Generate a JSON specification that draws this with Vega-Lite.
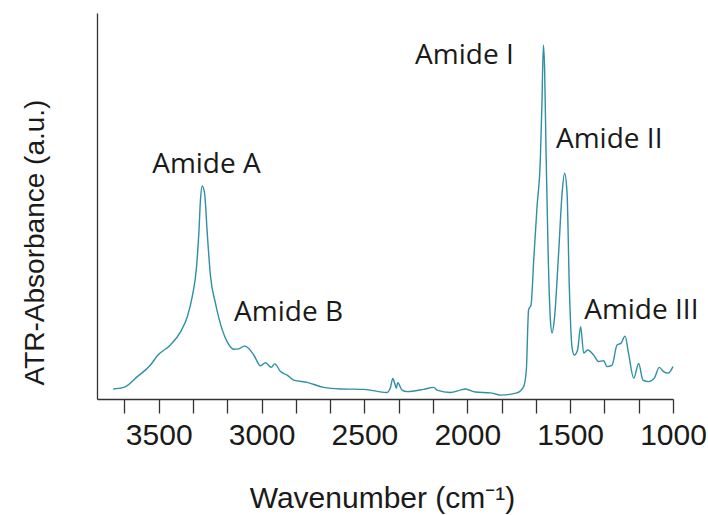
{
  "$schema": "https://vega.github.io/schema/vega-lite/v6.json",
  "width": 576,
  "height": 386,
  "autosize": {"type": "none"},
  "padding": {"left": 97, "top": 13, "right": 35, "bottom": 116},
  "background": "white",
  "config": {"view": {"stroke": null}},
  "datasets": {
    "spectrum": [
      {"w": 3721, "a": 2.6}, {"w": 3670, "a": 3.0}, {"w": 3604, "a": 5.8}, {"w": 3540, "a": 8.8},
      {"w": 3507, "a": 11.2}, {"w": 3443, "a": 14.0}, {"w": 3394, "a": 17.4}, {"w": 3361, "a": 21.3},
      {"w": 3337, "a": 26.5}, {"w": 3316, "a": 34.3}, {"w": 3305, "a": 42.9}, {"w": 3297, "a": 51.6},
      {"w": 3289, "a": 55.2}, {"w": 3277, "a": 53.3}, {"w": 3264, "a": 42.9}, {"w": 3248, "a": 31.7},
      {"w": 3224, "a": 24.8}, {"w": 3191, "a": 17.9}, {"w": 3167, "a": 14.8}, {"w": 3135, "a": 12.9},
      {"w": 3111, "a": 13.0}, {"w": 3083, "a": 13.7}, {"w": 3062, "a": 13.1}, {"w": 3038, "a": 11.4},
      {"w": 3005, "a": 8.6}, {"w": 2981, "a": 9.4}, {"w": 2953, "a": 8.2}, {"w": 2936, "a": 9.1},
      {"w": 2908, "a": 7.1}, {"w": 2876, "a": 6.2}, {"w": 2844, "a": 4.9}, {"w": 2778, "a": 4.3},
      {"w": 2698, "a": 3.0}, {"w": 2617, "a": 2.6}, {"w": 2503, "a": 2.5}, {"w": 2390, "a": 1.7},
      {"w": 2374, "a": 2.9}, {"w": 2362, "a": 5.3}, {"w": 2353, "a": 4.1}, {"w": 2345, "a": 2.8},
      {"w": 2338, "a": 4.2}, {"w": 2317, "a": 2.3}, {"w": 2293, "a": 1.9}, {"w": 2212, "a": 2.5},
      {"w": 2163, "a": 3.0}, {"w": 2147, "a": 2.3}, {"w": 2082, "a": 1.7}, {"w": 2034, "a": 2.3},
      {"w": 2009, "a": 2.6}, {"w": 1961, "a": 1.8}, {"w": 1888, "a": 1.6}, {"w": 1839, "a": 1.0},
      {"w": 1758, "a": 1.6}, {"w": 1726, "a": 3.2}, {"w": 1713, "a": 7.5}, {"w": 1702, "a": 23.1},
      {"w": 1690, "a": 24.4}, {"w": 1677, "a": 36.0}, {"w": 1661, "a": 49.8}, {"w": 1645, "a": 61.9},
      {"w": 1637, "a": 76.7}, {"w": 1630, "a": 91.7}, {"w": 1624, "a": 85.2}, {"w": 1617, "a": 63.7},
      {"w": 1607, "a": 37.8}, {"w": 1596, "a": 20.5}, {"w": 1588, "a": 17.1}, {"w": 1577, "a": 20.5},
      {"w": 1556, "a": 37.8}, {"w": 1539, "a": 53.4}, {"w": 1527, "a": 58.5}, {"w": 1515, "a": 53.4},
      {"w": 1504, "a": 29.0}, {"w": 1491, "a": 13.5}, {"w": 1480, "a": 11.4}, {"w": 1464, "a": 12.7},
      {"w": 1449, "a": 18.7}, {"w": 1434, "a": 11.9}, {"w": 1415, "a": 12.7}, {"w": 1386, "a": 11.4},
      {"w": 1362, "a": 9.7}, {"w": 1337, "a": 9.9}, {"w": 1321, "a": 8.4}, {"w": 1296, "a": 8.8},
      {"w": 1272, "a": 14.0}, {"w": 1253, "a": 14.4}, {"w": 1233, "a": 16.3}, {"w": 1216, "a": 11.8},
      {"w": 1191, "a": 5.4}, {"w": 1167, "a": 9.2}, {"w": 1146, "a": 4.9}, {"w": 1119, "a": 4.5},
      {"w": 1091, "a": 5.4}, {"w": 1067, "a": 8.2}, {"w": 1046, "a": 7.1}, {"w": 1024, "a": 6.7},
      {"w": 1000, "a": 8.4}
    ],
    "labels": [
      {"w": 3268, "a": 58.5, "text": "Amide A"},
      {"w": 2869, "a": 20.3, "text": "Amide B"},
      {"w": 2014, "a": 86.7, "text": "Amide I"},
      {"w": 1310, "a": 64.9, "text": "Amide II"},
      {"w": 1154, "a": 20.7, "text": "Amide III"}
    ]
  },
  "layer": [
    {
      "data": {"name": "spectrum"},
      "mark": {"type": "line", "color": "#2e8fa5", "strokeWidth": 1.4, "interpolate": "monotone"},
      "encoding": {
        "x": {
          "field": "w", "type": "quantitative",
          "scale": {"domain": [3800, 1000], "nice": false, "zero": false},
          "axis": {
            "values": [3666.667, 3500, 3333.333, 3166.667, 3000, 2833.333, 2666.667, 2500, 2333.333, 2166.667, 2000, 1833.333, 1666.667, 1500, 1333.333, 1166.667, 1000],
            "tickCount": 40,
            "labelExpr": "abs(datum.value % 500) < 0.01 ? format(datum.value, 'd') : ''",
            "ticks": true,
            "tickSize": 14,
            "tickColor": "#333333",
            "tickWidth": 1.3,
            "domainColor": "#333333",
            "domainWidth": 1.3,
            "grid": false,
            "labelFont": "Liberation Sans",
            "labelFontSize": 30,
            "labelColor": "#1a1a1a",
            "labelBaseline": "alphabetic",
            "labelPadding": 31,
            "labelFlush": false,
            "labelOverlap": false,
            "labelBound": false,
            "title": "Wavenumber (cm⁻¹)",
            "titleFont": "Liberation Sans",
            "titleFontSize": 30,
            "titleFontWeight": "normal",
            "titleColor": "#1a1a1a",
            "titleBaseline": "alphabetic",
            "titleX": 285,
            "titleY": 108,
            "encode": {
              "ticks": {"update": {"y2": {"signal": "abs(datum.value % 500) < 0.01 ? 14 : 7"}}}
            }
          }
        },
        "y": {
          "field": "a", "type": "quantitative",
          "scale": {"domain": [0, 100], "nice": false},
          "axis": {
            "ticks": false,
            "labels": false,
            "grid": false,
            "domainColor": "#333333",
            "domainWidth": 1.3,
            "title": "ATR-Absorbance (a.u.)",
            "titleFont": "Liberation Sans",
            "titleFontSize": 28,
            "titleFontWeight": "normal",
            "titleColor": "#1a1a1a",
            "titleBaseline": "alphabetic",
            "titleAlign": "center",
            "titleX": -54,
            "titleY": 229
          }
        }
      }
    },
    {
      "data": {"name": "labels"},
      "mark": {"type": "text", "font": "Open Sans", "fontSize": 28, "color": "#1a1a1a", "align": "center", "baseline": "alphabetic"},
      "encoding": {
        "x": {"field": "w", "type": "quantitative"},
        "y": {"field": "a", "type": "quantitative"},
        "text": {"field": "text"}
      }
    }
  ]
}
